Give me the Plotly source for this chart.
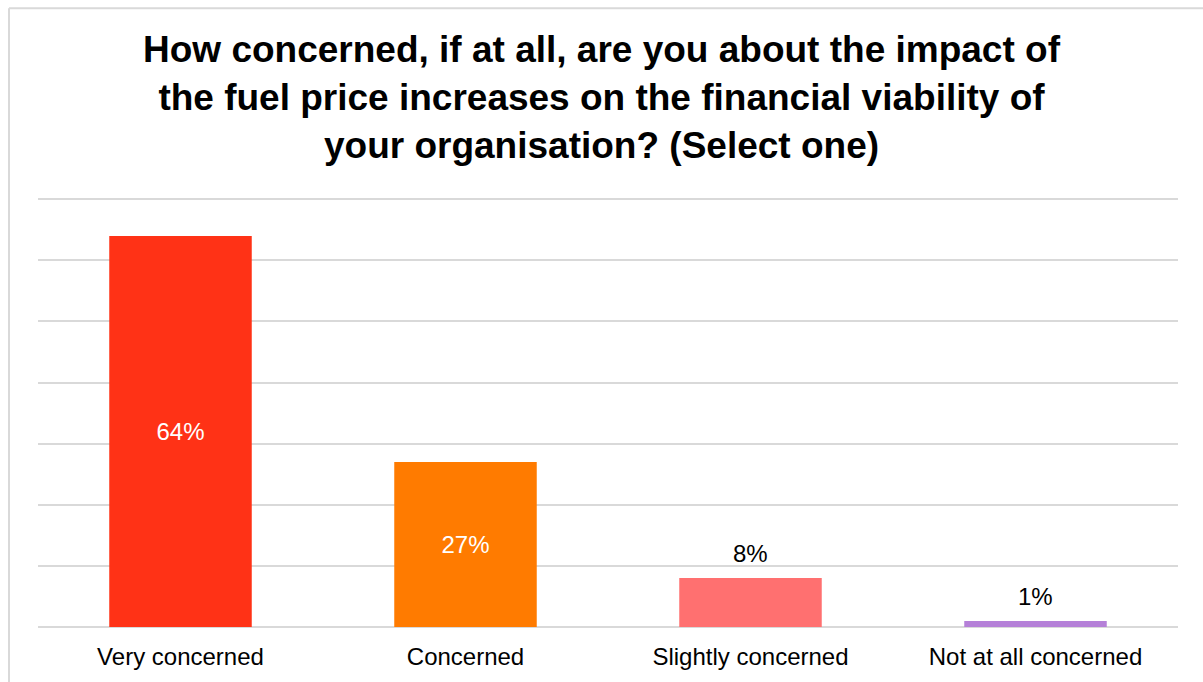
import plotly.graph_objects as go

# Survey responses
categories = ["Very concerned", "Concerned", "Slightly concerned", "Not at all concerned"]
shares = [64, 27, 8, 1]
bar_colors = ["#FF3216", "#FF7B00", "#FF7070", "#B580D8"]
inside_label = [True, True, False, False]

title_text = ("How concerned, if at all, are you about the impact of<br>"
              "the fuel price increases on the financial viability of<br>"
              "your organisation? (Select one)")

FONT = "Arial, Liberation Sans, sans-serif"
GRID = "#D9D9D9"
LABEL_SIZE = 24

fig = go.Figure(
    go.Bar(
        x=categories,
        y=shares,
        marker=dict(color=bar_colors, line=dict(width=0)),
        text=[f"{v}%" if ins else "" for v, ins in zip(shares, inside_label)],
        textposition="inside",
        insidetextanchor="middle",
        insidetextfont=dict(family=FONT, size=LABEL_SIZE, color="#FFFFFF"),
        hoverinfo="skip",
    )
)

# value labels above the short bars
for cat, v, ins in zip(categories, shares, inside_label):
    if not ins:
        fig.add_annotation(
            x=cat, y=v, text=f"{v}%", showarrow=False,
            yanchor="bottom", yshift=9,
            font=dict(family=FONT, size=LABEL_SIZE, color="#000000"),
        )

W, H = 1203, 682
ml, mr, mt, mb = 38, 25, 187, 52
pw, ph = W - ml - mr, H - mt - mb

# outer frame around the chart (partially outside the page)
fx = (9 - ml) / pw
fy = (H - mb - 7) / ph
fig.add_shape(type="line", xref="paper", yref="paper", x0=fx, x1=fx, y0=fy, y1=-0.5,
              line=dict(color=GRID, width=2))
fig.add_shape(type="line", xref="paper", yref="paper", x0=fx, x1=1.5, y0=fy, y1=fy,
              line=dict(color=GRID, width=2))

fig.update_layout(
    width=W,
    height=H,
    margin=dict(l=ml, r=mr, t=mt, b=mb),
    paper_bgcolor="white",
    plot_bgcolor="white",
    bargap=0.5,
    showlegend=False,
    font=dict(family=FONT, color="#000000"),
    title=dict(
        text=f"<b>{title_text}</b>",
        x=0.5,
        xanchor="center",
        y=1 - 62 / H,
        yanchor="top",
        font=dict(family=FONT, size=37, color="#000000"),
    ),
    xaxis=dict(
        showgrid=False,
        showline=False,
        ticks="",
        ticklabelstandoff=13,
        tickfont=dict(family=FONT, size=LABEL_SIZE, color="#000000"),
    ),
    yaxis=dict(
        range=[0, 72],
        tickvals=[0, 10, 20, 30, 40, 50, 60, 70],
        showticklabels=False,
        showgrid=True,
        gridcolor=GRID,
        gridwidth=2,
        zeroline=True,
        zerolinecolor=GRID,
        zerolinewidth=2,
        showline=False,
        ticks="",
    ),
)

fig.write_html("out.html")
